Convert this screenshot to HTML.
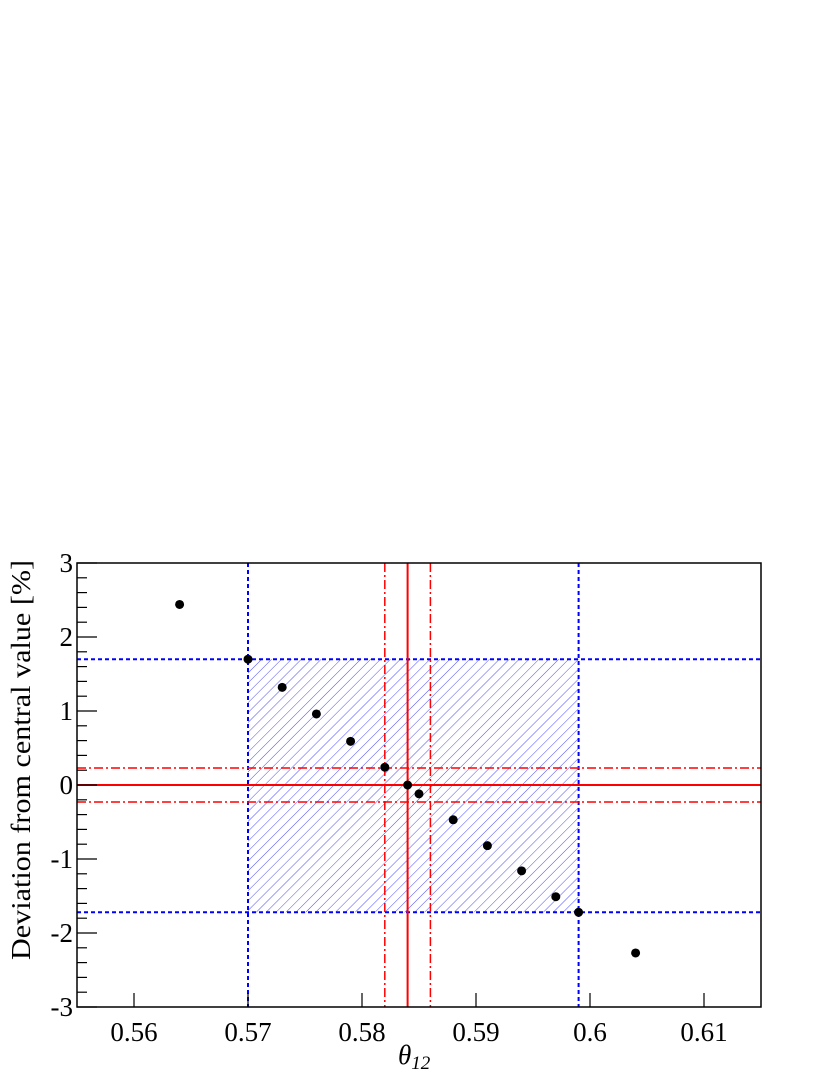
<!DOCTYPE html>
<html><head><meta charset="utf-8"><style>body{margin:0;background:#fff}svg{display:block}text{font-family:"Liberation Serif","DejaVu Serif",serif}</style></head>
<body>
<svg id="chart" width="830" height="1075" xmlns="http://www.w3.org/2000/svg" font-family="'Liberation Serif', serif">
<defs><pattern id="hatch" patternUnits="userSpaceOnUse" width="7" height="7" patternTransform="rotate(45)"><line x1="0" y1="0" x2="0" y2="7" stroke="#5050ff" stroke-width="1"/></pattern></defs>
<g id="g"></g>
</svg>
<script>
const xs=[0.564,0.570,0.573,0.576,0.579,0.582,0.584,0.585,0.588,0.591,0.594,0.597,0.599,0.604];
const ys=[2.44,1.70,1.32,0.96,0.59,0.24,0.0,-0.12,-0.47,-0.82,-1.16,-1.51,-1.72,-2.27];
const xTicks=[0.56,0.57,0.58,0.59,0.6,0.61];
const xTickLabels=["0.56","0.57","0.58","0.59","0.6","0.61"];
const yTicks=[-3,-2,-1,0,1,2,3];
const blueX=[0.570,0.599];
const blueY=[1.70,-1.72];
const redX=[0.584];const redY=[0];
const redDashX=[0.582,0.586];const redDashY=[0.23,-0.23];
const L=77,R=761,T=563,B=1007,x0=0.555,x1=0.615,y0=-3,y1=3;
const X=v=>L+(v-x0)/(x1-x0)*(R-L), Y=v=>B-(v-y0)/(y1-y0)*(B-T);
const g=document.getElementById('g');const NS='http://www.w3.org/2000/svg';
function el(t,a,txt){const e=document.createElementNS(NS,t);for(const k in a)e.setAttribute(k,a[k]);if(txt!=null)e.textContent=txt;g.appendChild(e);return e;}
let e;
e=el('rect',{x:X(blueX[0]),y:Y(blueY[0]),width:X(blueX[1])-X(blueX[0]),height:Y(blueY[1])-Y(blueY[0]),fill:'url(#hatch)'});


blueX.forEach(v=>{e=el('line',{x1:X(v),x2:X(v),y1:T,y2:B,stroke:'#0000ff','stroke-width':2,'stroke-dasharray':'4 3'});

});
blueY.forEach(v=>{e=el('line',{x1:L,x2:R,y1:Y(v),y2:Y(v),stroke:'#0000ff','stroke-width':2,'stroke-dasharray':'4 3'});

});
redDashX.forEach(v=>{e=el('line',{x1:X(v),x2:X(v),y1:T,y2:B,stroke:'#ff0000','stroke-width':1.5,'stroke-dasharray':'9 3 2 3'});

});
redDashY.forEach(v=>{e=el('line',{x1:L,x2:R,y1:Y(v),y2:Y(v),stroke:'#ff0000','stroke-width':1.5,'stroke-dasharray':'9 3 2 3'});

});
redX.forEach(v=>{e=el('line',{x1:X(v),x2:X(v),y1:T,y2:B,stroke:'#ff0000','stroke-width':2});

});
redY.forEach(v=>{e=el('line',{x1:L,x2:R,y1:Y(v),y2:Y(v),stroke:'#ff0000','stroke-width':2});

});
xs.forEach((v,i)=>{e=el('circle',{cx:X(v),cy:Y(ys[i]),r:4.5,fill:'#000'});

});
e=el('rect',{x:L,y:T,width:R-L,height:B-T,fill:'none',stroke:'#000','stroke-width':1.5});


for(let v=y0;v<=y1+1e-9;v+=0.2){const maj=Math.abs(v-Math.round(v))<1e-6;el('line',{x1:L,x2:L+(maj?20:10),y1:Y(v),y2:Y(v),stroke:'#000','stroke-width':1.2});}
yTicks.forEach(v=>{e=el('text',{x:L-4,y:Y(v)+9,'text-anchor':'end','font-size':27},String(v));

});
xTicks.forEach((v,i)=>{el('line',{x1:X(v),x2:X(v),y1:B,y2:B-14,stroke:'#000','stroke-width':1.2});
e=el('text',{x:X(v),y:B+34,'text-anchor':'middle','font-size':27},xTickLabels[i]);

});
e=el('text',{x:30,y:760,'text-anchor':'middle','font-size':27,transform:'rotate(-90 30 760)',textLength:400,lengthAdjust:'spacingAndGlyphs'},'Deviation from central value [%]');


e=el('text',{x:398,y:1064,'font-size':27,'font-style':'italic'},'');


e.innerHTML='θ<tspan font-size="19" dy="5">12</tspan>';
</script>
</body></html>
